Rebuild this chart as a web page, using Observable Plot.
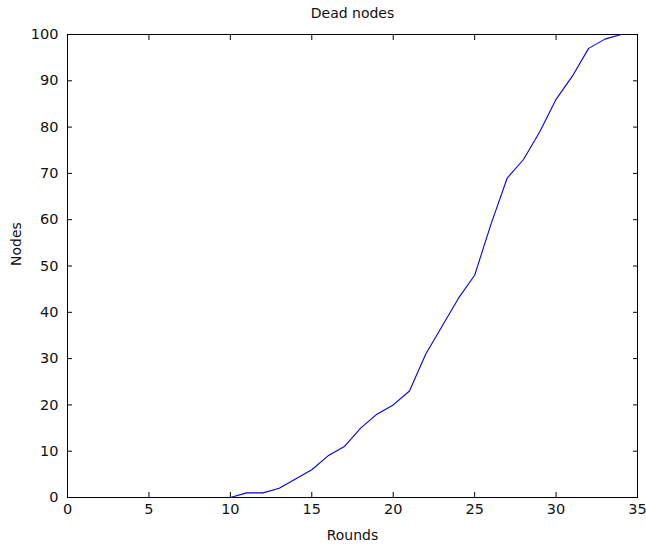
<!DOCTYPE html>
<html>
<head>
<meta charset="utf-8">
<script src="https://cdn.jsdelivr.net/npm/d3@7"></script>
<script src="https://cdn.jsdelivr.net/npm/@observablehq/plot@0.6"></script>
<style>
  html, body { margin: 0; padding: 0; background: #fff; }
</style>
</head>
<body>
<div id="chart"></div>
<script>
const rounds    = [10, 11, 12, 13, 14, 15, 16, 17, 18, 19, 20, 21, 22, 23, 24, 25, 26, 27, 28, 29, 30, 31, 32, 33, 34];
const deadNodes = [0, 1, 1, 2, 4, 6, 9, 11, 15, 18, 20, 23, 31, 37, 43, 48, 59, 69, 73, 79, 86, 91, 97, 99, 100];
const xTicks = [0, 5, 10, 15, 20, 25, 30, 35];
const yTicks = [0, 10, 20, 30, 40, 50, 60, 70, 80, 90, 100];
const titleText = "Dead nodes";
const xLabelText = "Rounds";
const yLabelText = "Nodes";

const data = rounds.map((r, i) => ({round: r, nodes: deadNodes[i]}));

const chart = Plot.plot({
  width: 646,
  height: 548,
  marginLeft: 67,
  marginRight: 9,
  marginTop: 34,
  marginBottom: 51,
  style: {
    fontFamily: "'DejaVu Sans', sans-serif",
    fontSize: "14.5px",
    color: "#111",
    background: "#fff",
    overflow: "visible"
  },
  x: {domain: [0, 35]},
  y: {domain: [0, 100]},
  marks: [
    Plot.frame({stroke: "#000", strokeWidth: 1}),
    Plot.axisX(xTicks, {anchor: "bottom", tickSize: -5, tickPadding: 11, label: null, fill: "#111", stroke: "#000"}),
    Plot.axisX(xTicks, {anchor: "top", tickSize: -5, tickFormat: () => "", label: null, stroke: "#000"}),
    Plot.axisY(yTicks, {anchor: "left", tickSize: -5, tickPadding: 14, label: null, fill: "#111", stroke: "#000"}),
    Plot.axisY(yTicks, {anchor: "right", tickSize: -5, tickFormat: () => "", label: null, stroke: "#000"}),
    Plot.line(data, {x: "round", y: "nodes", stroke: "#0000ee", strokeWidth: 1.1}),
    Plot.text([titleText], {frameAnchor: "top", dy: -26, text: d => d, fontSize: 14, fill: "#111"}),
    Plot.text([xLabelText], {frameAnchor: "bottom", dy: 42, text: d => d, fontSize: 14, fill: "#111"}),
    Plot.text([yLabelText], {frameAnchor: "left", dx: -51, rotate: -90, text: d => d, fontSize: 14, fill: "#111"})
  ]
});
document.getElementById("chart").appendChild(chart);
</script>
</body>
</html>
